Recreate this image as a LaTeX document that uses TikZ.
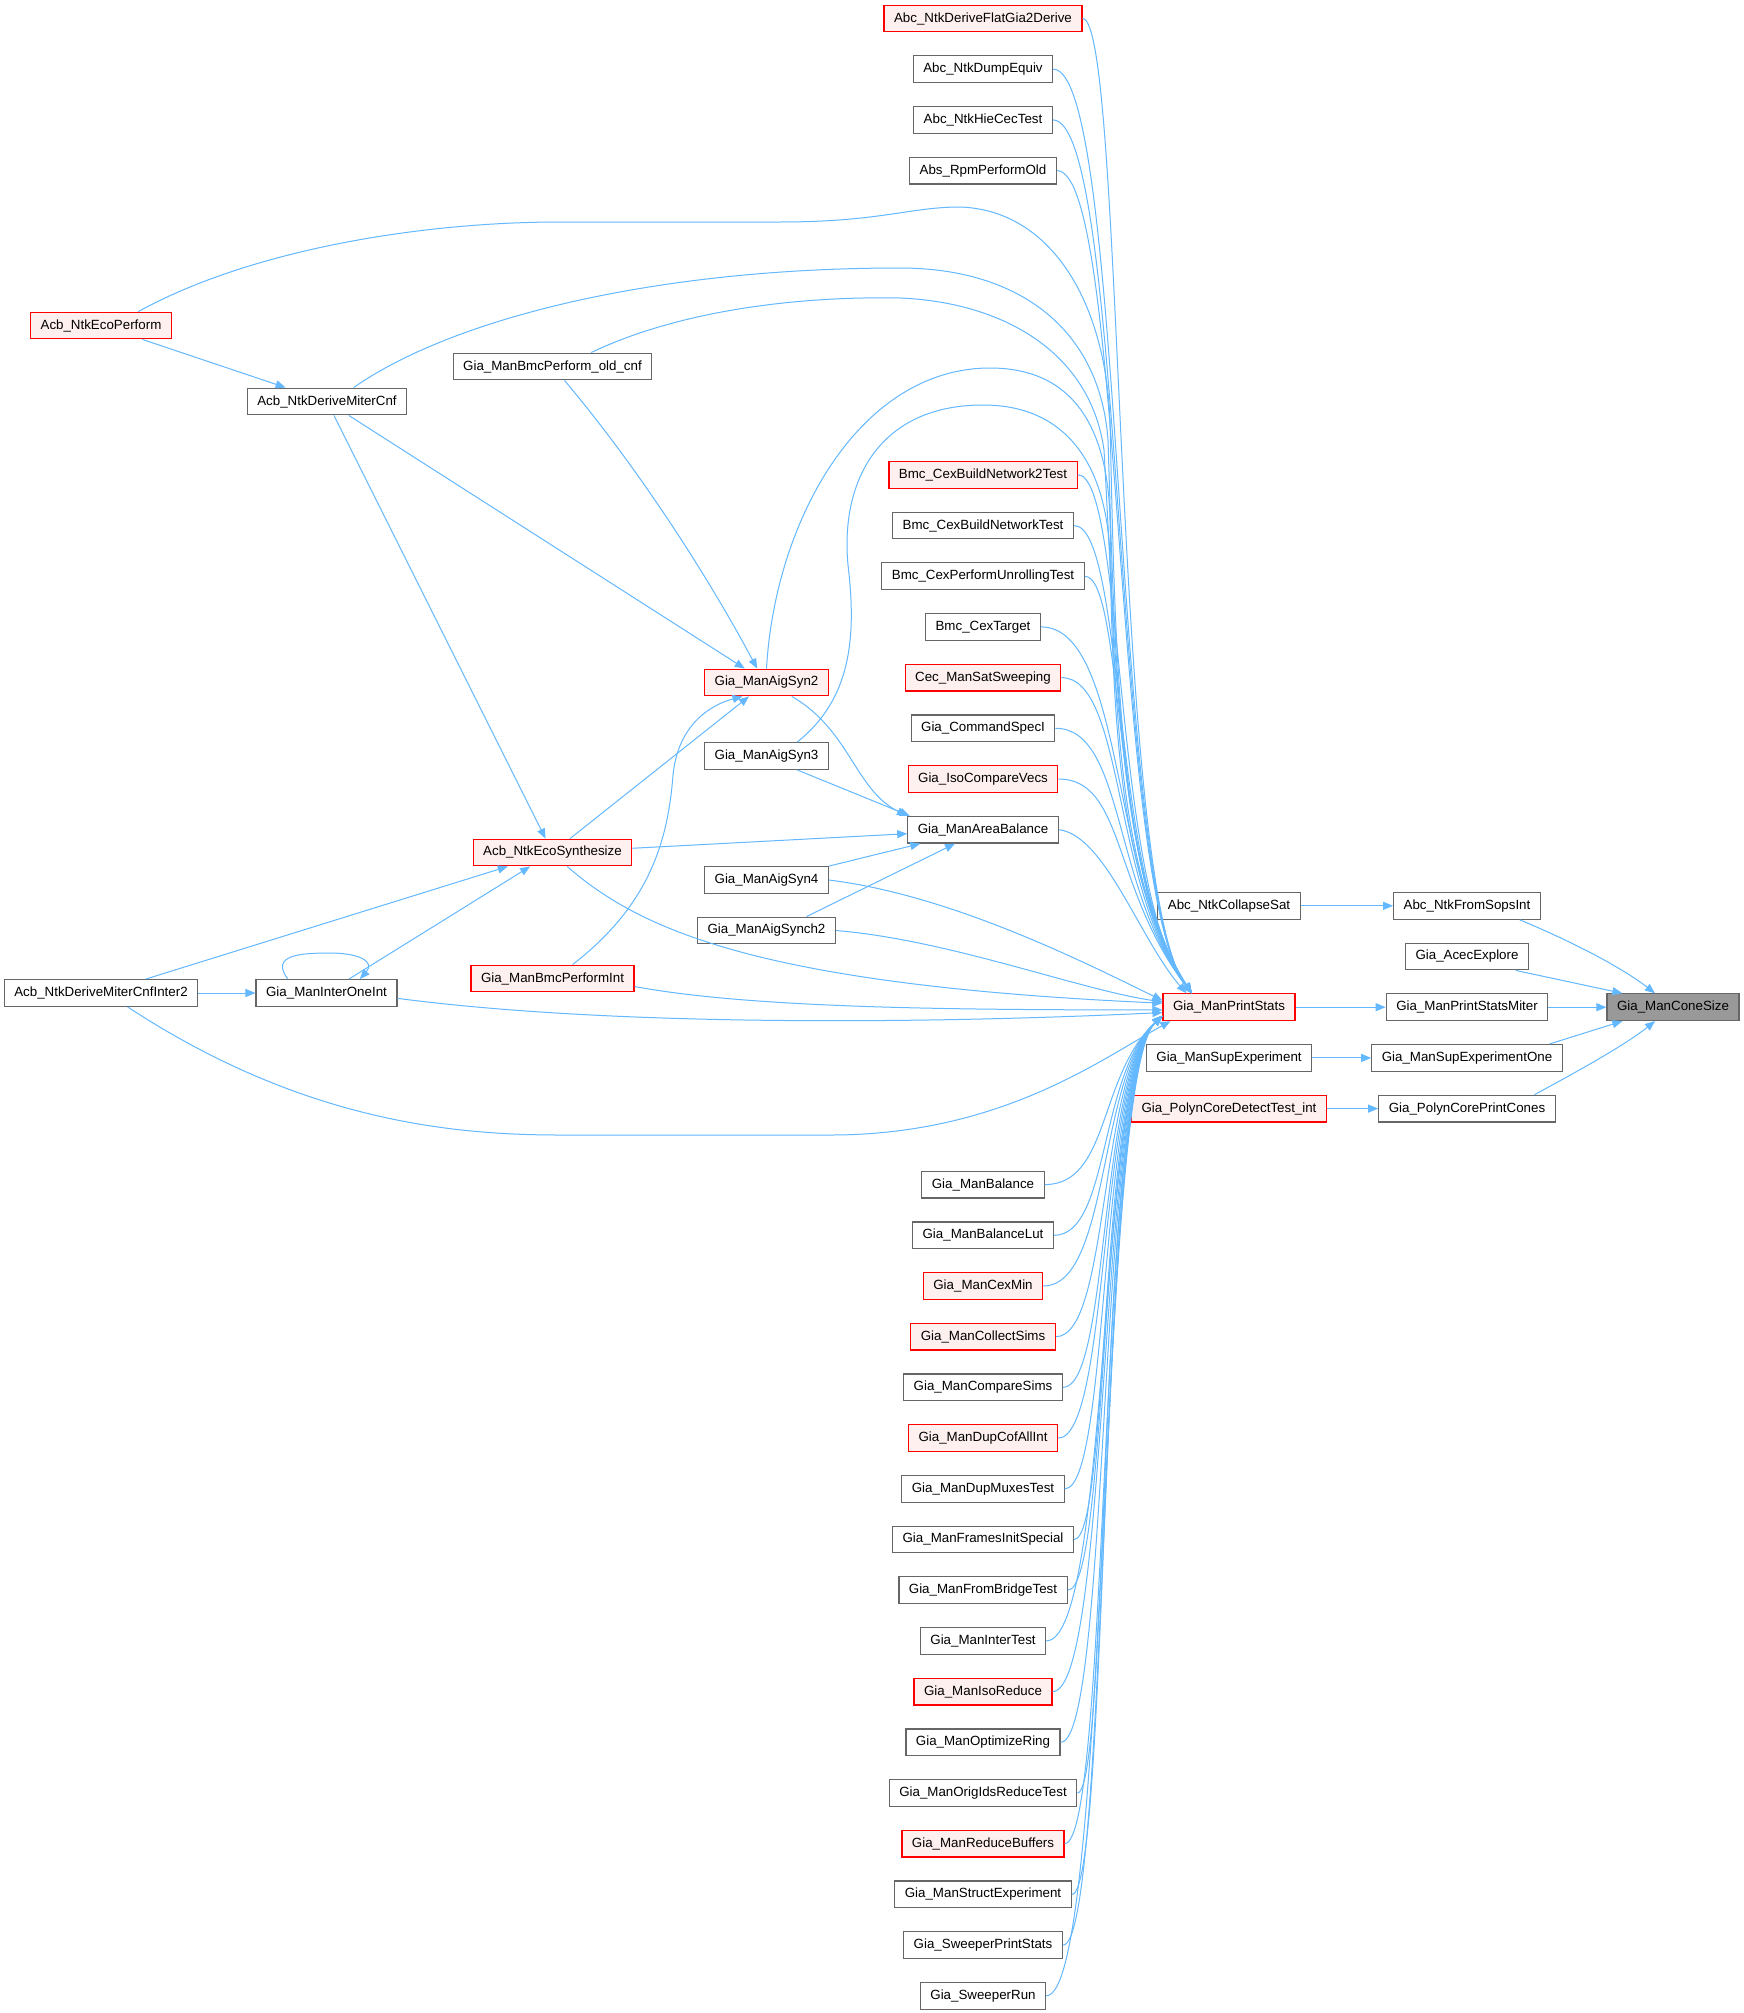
\documentclass[tikz,border=0pt]{standalone}
\usepackage{fontspec}
\setmainfont{Liberation Sans}
\usetikzlibrary{arrows.meta,calc}
\definecolor{edgeblue}{HTML}{63B8FF}
\definecolor{bordergray}{HTML}{666666}
\definecolor{redfill}{HTML}{FFF0F0}
\definecolor{rootfill}{HTML}{999999}
\begin{document}
\begin{tikzpicture}[x=0.75pt,y=-0.75pt,
  box/.style={draw=bordergray, fill=white, line width=0.9pt, inner xsep=7.5pt, inner ysep=0pt, minimum height=20pt, font=\fontsize{10}{12}\selectfont},
  redbox/.style={box, draw=red, fill=redfill},
  rootbox/.style={box, fill=rootfill},
  e/.style={draw=edgeblue, line width=0.75pt, -{Triangle[length=7.5pt,width=6pt]}},
]
\fill[white] (0,0) rectangle (1744,2013);
\useasboundingbox (0,0) rectangle (1744,2013);

% rank 0
\node[rootbox] (cone) at (1673,1007.2) {Gia\_ManConeSize};
% rank 1
\node[box] (fromsops) at (1467,905.8) {Abc\_NtkFromSopsInt};
\node[box] (acec) at (1467,956.5) {Gia\_AcecExplore};
\node[box] (psmiter) at (1467,1007.2) {Gia\_ManPrintStatsMiter};
\node[box] (supone) at (1467,1057.9) {Gia\_ManSupExperimentOne};
\node[box] (polyncones) at (1467,1108.6) {Gia\_PolynCorePrintCones};
% rank 2
\node[box] (collapse) at (1229,905.8) {Abc\_NtkCollapseSat};
\node[redbox] (ps) at (1229,1007.2) {Gia\_ManPrintStats};
\node[box] (supexp) at (1229,1057.9) {Gia\_ManSupExperiment};
\node[redbox] (polyndetect) at (1229,1108.6) {Gia\_PolynCoreDetectTest\_int};
% rank 3
\node[redbox] (n00) at (983,18.5) {Abc\_NtkDeriveFlatGia2Derive};
\node[box] (n01) at (983,69.2) {Abc\_NtkDumpEquiv};
\node[box] (n02) at (983,119.9) {Abc\_NtkHieCecTest};
\node[box] (n03) at (983,170.6) {Abs\_RpmPerformOld};
\node[redbox] (n09) at (983,474.8) {Bmc\_CexBuildNetwork2Test};
\node[box] (n10) at (983,525.5) {Bmc\_CexBuildNetworkTest};
\node[box] (n11) at (983,576.2) {Bmc\_CexPerformUnrollingTest};
\node[box] (n12) at (983,626.9) {Bmc\_CexTarget};
\node[redbox] (n13) at (983,677.6) {Cec\_ManSatSweeping};
\node[box] (n14) at (983,728.3) {Gia\_CommandSpecI};
\node[redbox] (n15) at (983,779.0) {Gia\_IsoCompareVecs};
\node[box] (ab) at (983,829.7) {Gia\_ManAreaBalance};
\node[box] (n23) at (983,1184.6) {Gia\_ManBalance};
\node[box] (n24) at (983,1235.3) {Gia\_ManBalanceLut};
\node[redbox] (n25) at (983,1286.0) {Gia\_ManCexMin};
\node[redbox] (n26) at (983,1336.7) {Gia\_ManCollectSims};
\node[box] (n27) at (983,1387.4) {Gia\_ManCompareSims};
\node[redbox] (n28) at (983,1438.1) {Gia\_ManDupCofAllInt};
\node[box] (n29) at (983,1488.8) {Gia\_ManDupMuxesTest};
\node[box] (n30) at (983,1539.5) {Gia\_ManFramesInitSpecial};
\node[box] (n31) at (983,1590.2) {Gia\_ManFromBridgeTest};
\node[box] (n32) at (983,1640.9) {Gia\_ManInterTest};
\node[redbox] (n33) at (983,1691.6) {Gia\_ManIsoReduce};
\node[box] (n34) at (983,1742.3) {Gia\_ManOptimizeRing};
\node[box] (n35) at (983,1793.0) {Gia\_ManOrigIdsReduceTest};
\node[redbox] (n36) at (983,1843.7) {Gia\_ManReduceBuffers};
\node[box] (n37) at (983,1894.4) {Gia\_ManStructExperiment};
\node[box] (n38) at (983,1945.1) {Gia\_SweeperPrintStats};
\node[box] (n39) at (983,1995.8) {Gia\_SweeperRun};
% rank 4
\node[redbox] (aigsyn2) at (766.5,682.5) {Gia\_ManAigSyn2};
\node[box] (aigsyn3) at (766.5,756) {Gia\_ManAigSyn3};
\node[box] (aigsyn4) at (766.5,880) {Gia\_ManAigSyn4};
\node[box] (aigsynch2) at (766.5,930.5) {Gia\_ManAigSynch2};
% rank 5
\node[box] (oldcnf) at (552.5,366.5) {Gia\_ManBmcPerform\_old\_cnf};
\node[redbox] (ecosynth) at (552.5,852.5) {Acb\_NtkEcoSynthesize};
\node[redbox] (bmcint) at (552.5,978.5) {Gia\_ManBmcPerformInt};
% rank 6
\node[box] (dmc) at (327,401.5) {Acb\_NtkDeriveMiterCnf};
\node[box] (interone) at (326.5,993) {Gia\_ManInterOneInt};
% rank 7
\node[redbox] (ecoperform) at (101,325.5) {Acb\_NtkEcoPerform};
\node[box] (inter2) at (101,993) {Acb\_NtkDeriveMiterCnfInter2};

\coordinate (ux) at (1125,0);
\coordinate (lx) at (1110,0);

% right part
\draw[e] ([xshift=-16pt]fromsops.south east) .. controls (1580,945) and (1625,970) .. ([xshift=-13.5pt]cone.north);
\draw[e] ([xshift=-10pt]acec.south east) -- ([xshift=-38pt]cone.north);
\draw[e] (psmiter) -- (cone);
\draw[e] ([xshift=-10pt]supone.north east) -- ([xshift=-38pt]cone.south);
\draw[e] ([xshift=-16pt]polyncones.north east) .. controls (1580,1070) and (1625,1045) .. ([xshift=-13.5pt]cone.south);
\draw[e] (collapse) -- (fromsops);
\draw[e] (ps) -- (psmiter);
\draw[e] (supexp) -- (supone);
\draw[e] (polyndetect) -- (polyncones);

% bundle from rank 3 into Gia_ManPrintStats
\foreach \n in {n00,n01,n02,n03,n09,n10,n11,n12,n13,n14,n15}
  \draw[e] (\n.east) .. controls (\n.east -| ux) and (1112,890) .. ([xshift=22pt]ps.north west);
\draw[e] (ab.east) .. controls (1105,835) and (1140,940) .. ([xshift=18pt]ps.north west);
\foreach \n in {n23,n24,n25,n26,n27,n28,n29,n30,n31,n32,n33,n34,n35,n36,n37,n38,n39}
  \draw[e] (\n.east) .. controls (\n.east -| lx) and (1098,1075) .. ([yshift=4pt]ps.south west);

% long curves from the left into Gia_ManPrintStats
\draw[e] ([xshift=28pt]ecoperform.north) .. controls (250,250) and (420,222) .. (560,222) -- (780,222) .. controls (880,222) and (910,207) .. (960,207) .. controls (1050,210) and (1105,300) .. (1110,420) .. controls (1115,650) and (1118,880) .. ([xshift=22pt]ps.north west);
\draw[e] ([xshift=20pt]dmc.north) .. controls (450,320) and (650,268) .. (900,268) .. controls (1020,268) and (1100,330) .. (1108,440) .. controls (1115,660) and (1118,880) .. ([xshift=22pt]ps.north west);
\draw[e] ([xshift=29pt]oldcnf.north) .. controls (680,310) and (800,296) .. (900,298) .. controls (1000,302) and (1090,350) .. (1104,450) .. controls (1116,660) and (1118,880) .. ([xshift=22pt]ps.north west);
\draw[e] (aigsyn2.north) .. controls (775,520) and (860,368) .. (990,368) .. controls (1075,368) and (1108,430) .. (1110,520) .. controls (1114,700) and (1118,880) .. ([xshift=22pt]ps.north west);
\draw[e] ([xshift=23pt]aigsyn3.north) .. controls (850,700) and (857,640) .. (848,565) .. controls (840,480) and (880,405) .. (983,405) .. controls (1070,405) and (1108,470) .. (1110,560) .. controls (1114,720) and (1118,880) .. ([xshift=22pt]ps.north west);
\draw[e] (aigsyn4.east) .. controls (950,895) and (1080,960) .. ([yshift=5pt]ps.west);
\draw[e] (aigsynch2.east) .. controls (950,940) and (1080,990) .. ([yshift=4pt]ps.west);
\draw[e] ([xshift=11pt]ecosynth.south) .. controls (640,930) and (760,985) .. ([yshift=3pt]ps.west);
\draw[e] ([yshift=-6pt]bmcint.east) .. controls (750,1008) and (950,1010) .. ([yshift=-2pt]ps.west);
\draw[e] ([yshift=-4pt]interone.east) .. controls (600,1025) and (900,1025) .. ([yshift=-4pt]ps.west);
\draw[e] ([xshift=20pt]inter2.south) .. controls (300,1120) and (450,1135) .. (560,1135) -- (830,1135) .. controls (1000,1135) and (1100,1060) .. ([xshift=6pt]ps.south west);

% left part
\draw[e] (ecoperform) -- (dmc);
\draw[e] (dmc) -- (ecosynth);
\draw[e] (dmc) -- (aigsyn2);
\draw[e] ([xshift=9pt]oldcnf.south) .. controls (640,470) and (710,580) .. ([xshift=-7pt]aigsyn2.north);
\draw[e] ([xshift=15pt]bmcint.north) .. controls (650,905) and (668,840) .. (673,775) .. controls (678,725) and (710,705) .. ([xshift=-18pt]aigsyn2.south);
\draw[e] (ecosynth) -- (aigsyn2);
\draw[e] (ecosynth) -- (ab);
\draw[e] ([xshift=19pt]aigsyn2.south) .. controls (850,730) and (855,790) .. ([xshift=-57pt]ab.north);
\draw[e] ([xshift=23pt]aigsyn3.south) -- ([xshift=-55pt]ab.north);
\draw[e] (aigsyn4.north east) -- ([xshift=-47pt]ab.south);
\draw[e] ([xshift=30pt]aigsynch2.north) -- ([xshift=-21pt]ab.south);
\draw[e] (inter2) -- (ecosynth);
\draw[e] (interone) -- (ecosynth);
\draw[e] (inter2) -- (interone);
\draw[e] ([xshift=-29pt]interone.north) .. controls (270,955) and (300,953) .. (330,953) .. controls (360,953) and (375,962) .. ([xshift=25pt]interone.north);
\end{tikzpicture}
\end{document}
